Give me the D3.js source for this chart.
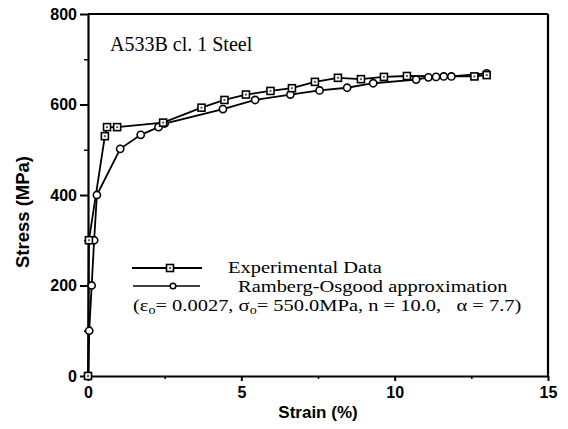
<!DOCTYPE html>
<html>
<head>
<meta charset="utf-8">
<script src="https://cdn.jsdelivr.net/npm/d3@7"></script>
<style>
  body { margin: 0; background: #fff; }
  .tick text { font-family: "Liberation Sans", Arial, sans-serif; font-weight: bold; font-size: 16px; }
  .serif { font-family: "Liberation Serif", "Times New Roman", serif; }
</style>
</head>
<body>
<svg id="chart"></svg>
<script>
// Experimental data: strain (%), stress (MPa)
const expStrain = [0, 0.03, 0.55, 0.62, 0.95, 2.45, 3.7, 4.45, 5.15, 5.95, 6.65, 7.4, 8.15, 8.9, 9.65, 10.4, 12.6, 13.0];
const expStress = [0, 300, 530, 550, 550, 560, 593, 610, 622, 630, 636, 650, 659, 656, 661, 663, 662, 665];

// Ramberg-Osgood approximation
const roStrain = [0, 0.04, 0.12, 0.2, 0.29, 1.05, 1.72, 2.3, 2.5, 4.4, 5.45, 6.6, 7.55, 8.45, 9.3, 10.7, 11.1, 11.35, 11.6, 11.85, 13.0];
const roStress = [0, 100, 200, 300, 400, 502, 533, 550, 558, 590, 610, 622, 631, 637, 647, 655, 660, 661, 662, 662, 669];

const xTicks = [0, 5, 10, 15];
const yTicks = [0, 200, 400, 600, 800];
const xMinor = [2.5, 7.5, 12.5];
const yMinor = [100, 300, 500, 700];

const width = 568, height = 429;
const margin = { top: 14, right: 20, bottom: 53, left: 88 };
const w = width - margin.left - margin.right;
const h = height - margin.top - margin.bottom;

const svg = d3.select('#chart').attr('width', width).attr('height', height);
const chart = svg.append('g').attr('transform', `translate(${margin.left},${margin.top})`);

const xScale = d3.scaleLinear().domain([0, 15]).range([0, w]);
const yScale = d3.scaleLinear().domain([0, 800]).range([h, 0]);

// minor ticks
chart.append('g').attr('transform', `translate(0,${h})`)
  .call(d3.axisBottom(xScale).tickValues(xMinor).tickSize(3).tickFormat(''))
  .call(g => g.select('.domain').remove())
  .selectAll('line').attr('stroke-width', 1.5);
chart.append('g')
  .call(d3.axisLeft(yScale).tickValues(yMinor).tickSize(4).tickFormat(''))
  .call(g => g.select('.domain').remove())
  .selectAll('line').attr('stroke-width', 1.5);

// major axes
const xAxisG = chart.append('g').attr('transform', `translate(0,${h})`)
  .call(d3.axisBottom(xScale).tickValues(xTicks).tickSize(5).tickSizeOuter(0).tickPadding(6).tickFormat(d3.format('d')));
const yAxisG = chart.append('g')
  .call(d3.axisLeft(yScale).tickValues(yTicks).tickSize(8).tickSizeOuter(0).tickPadding(3));
[xAxisG, yAxisG].forEach(g => {
  g.select('.domain').attr('stroke-width', 2.2);
  g.selectAll('.tick line').attr('stroke-width', 2);
  g.selectAll('.tick text').attr('fill', '#000');
});

// frame top and right
chart.append('line').attr('x1', 0).attr('x2', w).attr('y1', 0).attr('y2', 0)
  .attr('stroke', '#000').attr('stroke-width', 2.2);
chart.append('line').attr('x1', w).attr('x2', w).attr('y1', 0).attr('y2', h)
  .attr('stroke', '#000').attr('stroke-width', 2.2);

// series
const expData = expStrain.map((d, i) => [d, expStress[i]]);
const roData = roStrain.map((d, i) => [d, roStress[i]]);
const line = d3.line().x(d => xScale(d[0])).y(d => yScale(d[1]));

chart.append('path').datum(roData).attr('d', line)
  .attr('fill', 'none').attr('stroke', '#000').attr('stroke-width', 1.8);
chart.append('path').datum(expData).attr('d', line)
  .attr('fill', 'none').attr('stroke', '#000').attr('stroke-width', 1.8);

function drawSquare(g, x, y) {
  g.append('rect').attr('x', x - 3.5).attr('y', y - 3.5).attr('width', 7).attr('height', 7)
    .attr('fill', '#fff').attr('stroke', '#000').attr('stroke-width', 1.6);
  g.append('rect').attr('x', x - 1).attr('y', y - 1).attr('width', 2).attr('height', 2).attr('fill', '#555');
}
function drawCircle(g, x, y) {
  g.append('circle').attr('cx', x).attr('cy', y).attr('r', 3.6)
    .attr('fill', '#fff').attr('stroke', '#000').attr('stroke-width', 1.6);
}

const roG = chart.append('g');
roData.forEach(d => drawCircle(roG, xScale(d[0]), yScale(d[1])));
const expG = chart.append('g');
expData.forEach(d => drawSquare(expG, xScale(d[0]), yScale(d[1])));

// axis titles
svg.append('text')
  .attr('x', margin.left + w / 2).attr('y', 418)
  .attr('text-anchor', 'middle')
  .style('font-family', '"Liberation Sans", Arial, sans-serif')
  .style('font-weight', 'bold').style('font-size', '17px')
  .text('Strain (%)');
svg.append('text')
  .attr('transform', 'translate(29,212) rotate(-90)')
  .attr('text-anchor', 'middle')
  .style('font-family', '"Liberation Sans", Arial, sans-serif')
  .style('font-weight', 'bold').style('font-size', '18.5px')
  .text('Stress (MPa)');

// material label
svg.append('text').attr('class', 'serif')
  .attr('x', 110).attr('y', 51)
  .style('font-size', '20px')
  .text('A533B cl. 1 Steel');

// legend (serif text slightly stretched horizontally like the scan)
const lg = svg.append('g');
function legendText(x, y) {
  return lg.append('text').attr('class', 'serif')
    .attr('transform', `translate(${x},${y}) scale(1.17,1)`)
    .style('font-size', '17.5px');
}
lg.append('line').attr('x1', 132).attr('x2', 202).attr('y1', 268).attr('y2', 268)
  .attr('stroke', '#000').attr('stroke-width', 1.8);
drawSquare(lg, 170, 268);
legendText(228, 273).text('Experimental Data');

lg.append('line').attr('x1', 133).attr('x2', 200).attr('y1', 286).attr('y2', 286)
  .attr('stroke', '#000').attr('stroke-width', 1.6);
lg.append('circle').attr('cx', 173).attr('cy', 286).attr('r', 2.8)
  .attr('fill', '#fff').attr('stroke', '#000').attr('stroke-width', 1.5);
legendText(238, 292).text('Ramberg-Osgood approximation');

const params = legendText(133, 311);
params.append('tspan').text('(ε');
params.append('tspan').attr('dy', 3).style('font-size', '12px').text('o');
params.append('tspan').attr('dy', -3).text('= 0.0027, σ');
params.append('tspan').attr('dy', 3).style('font-size', '12px').text('o');
params.append('tspan').attr('dy', -3).text('= 550.0MPa, n = 10.0,\u00a0\u00a0 α = 7.7)');
</script>
</body>
</html>
